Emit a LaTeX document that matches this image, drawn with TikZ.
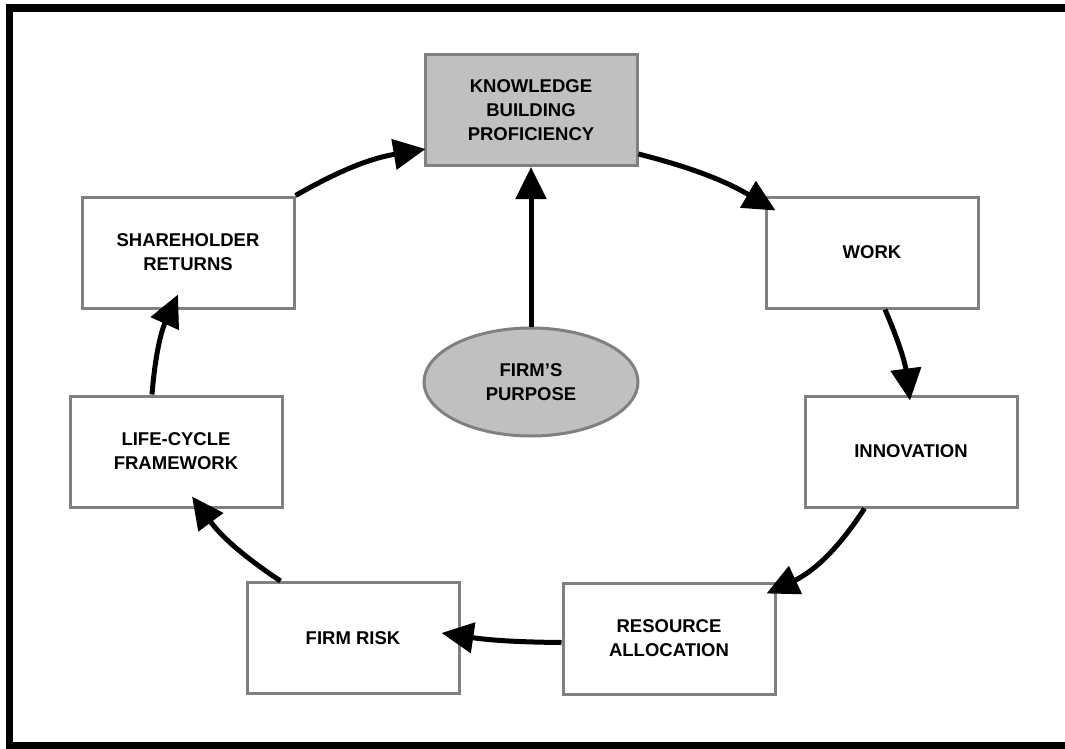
\documentclass[tikz,border=0pt]{standalone}
\usepackage{fontspec}
\setmainfont{Liberation Sans}
\usetikzlibrary{arrows.meta,shapes.geometric,positioning,calc}
\definecolor{boxgray}{RGB}{128,128,128}
\definecolor{fillgray}{RGB}{192,192,192}

\begin{document}
\begin{tikzpicture}[x=1pt,y=1pt,->,>={Triangle[length=32pt,width=30pt]},
semithick,font=\fontsize{18.5}{24}\selectfont\bfseries]

\tikzstyle{block}=[rectangle, draw=boxgray, line width=3pt, fill=white,
minimum width=212pt, minimum height=111pt, align=center, inner sep=0pt]
\tikzstyle{flow}=[->, line width=5pt, black]

\useasboundingbox (0,0) rectangle (1065,-749);

%frame
\draw[-,line width=7.5pt] (1065,-8) -- (9.5,-8) -- (9.5,-745.5) -- (1065,-745.5);

%cycle
\node[block, fill=fillgray] (kbp) at (531,-110) {KNOWLEDGE\\BUILDING\\PROFICIENCY};
\node[block] (work) at (872,-252.5) {WORK};
\node[block] (innov) at (911,-451.5) {INNOVATION};
\node[block] (alloc) at (669,-638.5) {RESOURCE\\ALLOCATION};
\node[block] (risk) at (353,-638) {FIRM RISK};
\node[block] (lcf) at (176,-451.5) {LIFE-CYCLE\\FRAMEWORK};
\node[block] (returns) at (188,-252.5) {SHAREHOLDER\\RETURNS};

%centre
\node[ellipse, draw=boxgray, fill=fillgray, line width=3pt, minimum width=214pt,
minimum height=108pt, inner sep=0pt, align=center] (purpose) at (531,-382) {FIRM’S\\PURPOSE};

\draw[flow] (returns.north east) to[bend left=10] ($(kbp.south west)+(2,18)$);
\draw[flow] ($(kbp.south east)+(0,13)$) to[bend left=8] ($(work.north west)+(11,-15)$);
\draw[flow] ($(work.south)+(13,0)$) to[bend left=8] ($(innov.north)+(-1,-6)$);
\draw[flow] ($(innov.south west)+(61,0)$) to[bend left=16] ($(alloc.north east)+(-10,-12)$);
\draw[flow] ($(alloc.west)+(0,-4)$) to[bend left=4] ($(risk.east)+(-19,5)$);
\draw[flow] ($(risk.north west)+(35,0)$) to[bend left=10] ($(lcf.south)+(16,12)$);
\draw[flow] ($(lcf.north)+(-24,0)$) to[bend left=10] ($(returns.south)+(-10,15)$);

\draw[flow] (purpose.north) -- (kbp.south);

\end{tikzpicture}
\end{document}
